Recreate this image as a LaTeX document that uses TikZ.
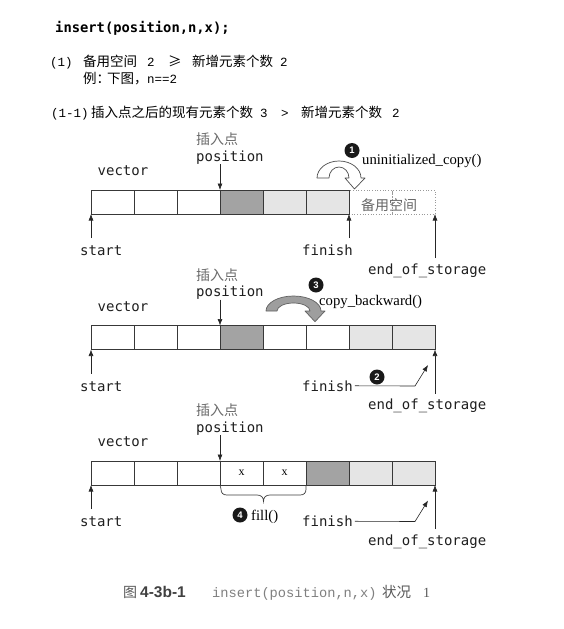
\documentclass[tikz,border=0pt]{standalone}
\usepackage{fontspec}
\usetikzlibrary{arrows.meta}
\newfontfamily\cjk{Noto Sans CJK SC}
\newfontfamily\dmono{DejaVu Sans Mono}
\newfontfamily\lmono{Liberation Mono}
\newfontfamily\tserif{Liberation Serif}
\newfontfamily\asans{Liberation Sans}
\newcommand{\fsz}[1]{\fontsize{#1}{#1}\selectfont}
\begin{document}
\begin{tikzpicture}[x=1pt,y=-1pt,
  cellbox/.style={draw=black!78, line width=0.7pt, minimum width=43pt, minimum height=24pt, inner sep=0pt, outer sep=0pt, anchor=north west},
  litebox/.style={cellbox, fill=black!10},
  darkbox/.style={cellbox, fill=black!36},
  sparebox/.style={cellbox, draw=black!40, dotted, line width=0.6pt},
  lbl/.style={anchor=base west, inner sep=0pt, text=black!88, font=\dmono\fsz{14}},
  cjklbl/.style={anchor=base west, inner sep=0pt, text=black!58, font=\cjk\fsz{14}},
  fnlbl/.style={anchor=base west, inner sep=0pt, font=\tserif\fsz{14.7}},
  ptr/.style={draw=black!85, line width=0.6pt, -{Latex[length=6.5pt,width=5pt]}},
  numc/.style={circle, fill=black!90, text=white, minimum size=15pt, inner sep=0pt, font=\asans\bfseries\fsz{9.5}},
  txt/.style={anchor=base west, inner sep=0pt}]
\useasboundingbox (0,0) rectangle (563,629);
\fill[white] (0,0) rectangle (563,629);

% ---------- top text ----------
\node[txt, font=\dmono\bfseries\fsz{13.8}] (title) at (55,32) {insert(position,n,x);};
\node[txt] (l1) at (50,66) {\makebox[33pt][l]{\lmono\fsz{12.5}(1)}\makebox[64pt][l]{\cjk\fsz{13.5}备用空间}\makebox[21pt][l]{\lmono\fsz{12.5}2}\makebox[24pt][l]{\cjk\fsz{13.5}≥}\makebox[88pt][l]{\cjk\fsz{13.5}新增元素个数}{\lmono\fsz{12.5}2}};
\node[txt] (l2) at (83,83) {\makebox[24pt][l]{\cjk\fsz{13.5}例：}\makebox[40pt][l]{\cjk\fsz{13.5}下图，}{\lmono\fsz{12.5}n==2}};
\node[txt] (l3) at (51,117.5) {\makebox[40pt][l]{\lmono\fsz{12.5}(1-1)}\makebox[169pt][l]{\cjk\fsz{13.5}插入点之后的现有元素个数}\makebox[21pt][l]{\lmono\fsz{12.5}3}\makebox[20pt][l]{\lmono\fsz{12.5}>}\makebox[91pt][l]{\cjk\fsz{13.5}新增元素个数}{\lmono\fsz{12.5}2}};

% ---------- diagram 1 ----------
\node[sparebox] (a7) at (349,190) {};
\node[sparebox] (a8) at (392,190) {};
\node[cellbox] (a1) at (91,190) {};
\node[cellbox] (a2) at (134,190) {};
\node[cellbox] (a3) at (177,190) {};
\node[darkbox] (a4) at (220,190) {};
\node[litebox] (a5) at (263,190) {};
\node[litebox] (a6) at (306,190) {};
\node[inner sep=0pt, text=black!60, font=\cjk\fsz{14}] (sp1) at (389,205.5) {备用空间};

\node[cjklbl] (ins1) at (196,144.5) {插入点};
\node[lbl] (pos1) at (196,161) {position};
\node[lbl] (vec1) at (97.5,175.5) {vector};
\node[lbl] (st1) at (80,255.5) {start};
\node[lbl] (fi1) at (302,255.5) {finish};
\node[lbl] (eos1) at (368,274) {end\_of\_storage};

\coordinate (pp1) at (220,164);
\coordinate (sp1b) at (91,238);
\coordinate (fp1) at (349,238);
\coordinate (ep1) at (435,258);
\draw[ptr] (pp1) -- (a4.north west);
\draw[ptr] (sp1b) -- (a1.south west);
\draw[ptr] (fp1) -- (a6.south east);
\draw[ptr] (ep1) -- (a8.south east);

\begin{scope}[shift={(339,178)}, y=1pt]
\filldraw[fill=white, draw=black!70, line width=0.7pt, line join=round]
  (-22,0) arc[start angle=180, end angle=0, x radius=22, y radius=17]
  -- (26,0) -- (15.5,-11) -- (6,0) -- (10,0)
  arc[start angle=0, end angle=180, x radius=10, y radius=11] -- cycle;
\end{scope}
\node[numc] (n1) at (352,150.5) {1};
\node[fnlbl] (uc) at (362,164) {uninitialized\_copy()};

% ---------- diagram 2 ----------
\node[cellbox] (b1) at (91,325.5) {};
\node[cellbox] (b2) at (134,325.5) {};
\node[cellbox] (b3) at (177,325.5) {};
\node[darkbox] (b4) at (220,325.5) {};
\node[cellbox] (b5) at (263,325.5) {};
\node[cellbox] (b6) at (306,325.5) {};
\node[litebox] (b7) at (349,325.5) {};
\node[litebox] (b8) at (392,325.5) {};

\node[cjklbl] (ins2) at (196,280) {插入点};
\node[lbl] (pos2) at (196,296.5) {position};
\node[lbl] (vec2) at (97.5,311) {vector};
\node[lbl] (st2) at (80,391) {start};
\node[lbl] (fi2) at (302,391) {finish};
\node[lbl] (eos2) at (368,409.5) {end\_of\_storage};

\coordinate (pp2) at (220,299.5);
\coordinate (sp2) at (91,373.5);
\coordinate (ep2) at (435,393.5);
\coordinate (k2) at (415,386);
\coordinate (t2) at (428,365);
\draw[ptr] (pp2) -- (b4.north west);
\draw[ptr] (sp2) -- (b1.south west);
\draw[ptr] (ep2) -- (b8.south east);
\draw[ptr] ([xshift=2pt]fi2.east) -- (k2) -- (t2);
\node[numc] (n2) at (377,377) {2};

\begin{scope}[shift={(293.5,311)}, y=1pt]
\filldraw[fill=black!38, draw=black!62, line width=0.7pt, line join=round]
  (-27.5,0) arc[start angle=180, end angle=0, x radius=27.5, y radius=15]
  -- (31.5,0) -- (21.5,-10.7) -- (11.5,0) -- (16.5,0)
  arc[start angle=0, end angle=180, x radius=16.5, y radius=8] -- cycle;
\end{scope}
\node[numc] (n3) at (316,285) {3};
\node[fnlbl] (cb) at (319,305) {copy\_backward()};

% ---------- diagram 3 ----------
\node[cellbox] (c1) at (91,461) {};
\node[cellbox] (c2) at (134,461) {};
\node[cellbox] (c3) at (177,461) {};
\node[cellbox, font=\tserif\fsz{12}] (c4) at (220,461) {x};
\node[cellbox, font=\tserif\fsz{12}] (c5) at (263,461) {x};
\node[darkbox] (c6) at (306,461) {};
\node[litebox] (c7) at (349,461) {};
\node[litebox] (c8) at (392,461) {};

\node[cjklbl] (ins3) at (196,415.5) {插入点};
\node[lbl] (pos3) at (196,432) {position};
\node[lbl] (vec3) at (97.5,446.5) {vector};
\node[lbl] (st3) at (80,526.5) {start};
\node[lbl] (fi3) at (302,526.5) {finish};
\node[lbl] (eos3) at (368,545) {end\_of\_storage};

\coordinate (pp3) at (220,435);
\coordinate (sp3) at (91,509);
\coordinate (ep3) at (435,529);
\coordinate (k3) at (415,521.5);
\coordinate (t3) at (428,500.5);
\draw[ptr] (pp3) -- (c4.north west);
\draw[ptr] (sp3) -- (c1.south west);
\draw[ptr] (ep3) -- (c8.south east);
\draw[ptr] ([xshift=2pt]fi3.east) -- (k3) -- (t3);

\draw[draw=black!75, line width=0.7pt] (c4.south west) -- (221,489)
  .. controls (221,493) and (223,495) .. (227,495) -- (257,495)
  .. controls (261,495) and (263.5,497) .. (263.5,501.5)
  .. controls (263.5,497) and (266,495) .. (270,495) -- (300,495)
  .. controls (304,495) and (306,493) .. (306,489) -- (c5.south east);
\node[numc] (n4) at (240,515) {4};
\node[fnlbl] (fl) at (251,520) {fill()};

% ---------- caption ----------
\node[txt] (cap) at (123,597) {\makebox[17pt][l]{\cjk\fsz{14}\color{black!65}图}\makebox[72pt][l]{\asans\bfseries\fsz{15.5}\color{black!75}4-3b-1}\makebox[170pt][l]{\lmono\fsz{13.7}\color{black!50}insert(position,n,x)}\makebox[41pt][l]{\cjk\fsz{14.5}\color{black!65}状况}{\tserif\fsz{14}\color{black!65}1}};
\end{tikzpicture}
\end{document}
